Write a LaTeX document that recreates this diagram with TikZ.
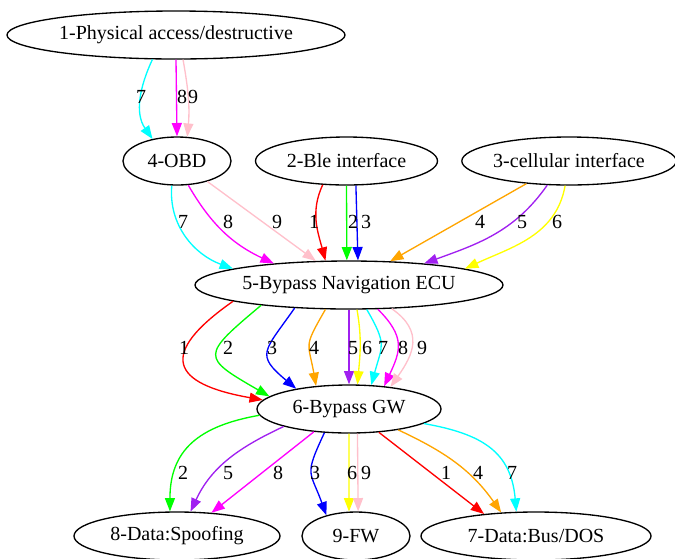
\documentclass[tikz,border=0pt]{standalone}
\usepackage{fontspec}
\setmainfont{Liberation Serif}
\usetikzlibrary{arrows.meta, shapes.geometric}
\definecolor{gvcyan}{HTML}{00FFFF}
\definecolor{gvmagenta}{HTML}{FF00FF}
\definecolor{gvpink}{HTML}{FFC0CB}
\definecolor{gvgreen}{HTML}{00FF00}
\definecolor{gvorange}{HTML}{FFA500}
\definecolor{gvpurple}{HTML}{A020F0}
\definecolor{gvyellow}{HTML}{FFFF00}

\begin{document}
\begin{tikzpicture}[x=0.75pt, y=-0.75pt,
                    every node/.style={font=\fontsize{15}{18}\selectfont},
                    block/.style={ellipse, draw, line width=1pt, inner sep=0pt, minimum height=36pt},
                    lbl/.style={inner sep=0pt},
                    flow/.style={line width=1pt, -{Triangle[length=10pt, width=7.5pt]}}
                ]
                \useasboundingbox (0,0) rectangle (675,558);

                \node[block, minimum width=253.5pt] (n1) at (176,35) {1-Physical access/destructive};
                \node[block, minimum width=81pt] (n4) at (177,161) {4-OBD};
                \node[block, minimum width=136.5pt] (n2) at (346.5,161) {2-Ble interface};
                \node[block, minimum width=159pt] (n3) at (569,161) {3-cellular interface};
                \node[block, minimum width=231pt] (n5) at (349,285) {5-Bypass Navigation ECU};
                \node[block, minimum width=138pt] (n6) at (349,409) {6-Bypass GW};
                \node[block, minimum width=154.5pt] (n8) at (177,536) {8-Data:Spoofing};
                \node[block, minimum width=81pt] (n9) at (356,536) {9-FW};
                \node[block, minimum width=172.5pt] (n7) at (536,536) {7-Data:Bus/DOS};

                % 1 -> 4
                \draw[flow, gvcyan] (n1.-134) to[out=-115, in=125] (n4.138);
                \draw[flow, gvmagenta] (n1.-90) -- (n4.90);
                \draw[flow, gvpink] (n1.-74) to[out=-80, in=85] (n4.67);
                \node[lbl] (l14s7) at (141,97) {7};
                \node[lbl] (l14s8) at (182,97) {8};
                \node[lbl] (l14s9) at (193,97) {9};

                % 4, 2, 3 -> 5
                \draw[flow, gvcyan] (n4.-102) to[out=-95, in=160] (n5.172);
                \draw[flow, gvmagenta] (n4.-65) to[out=-60, in=155] (n5.164);
                \draw[flow, gvpink] (n4.-34) -- (n5.144);
                \draw[flow, red] (n2.-135) to[out=-115, in=105] (n5.134);
                \draw[flow, gvgreen] (n2.-90) -- (n5.95);
                \draw[flow, blue] (n2.-69) -- (n5.70);
                \draw[flow, gvorange] (n3.-152) -- (n5.30);
                \draw[flow, gvpurple] (n3.-132) to[out=-125, in=20] (n5.16);
                \draw[flow, gvyellow] (n3.-99.5) to[out=-100, in=25] (n5.8);
                \node[lbl] (l45s7) at (183,222) {7};
                \node[lbl] (l45s8) at (228,222) {8};
                \node[lbl] (l45s9) at (277,222) {9};
                \node[lbl] (l25s1) at (314,222) {1};
                \node[lbl] (l25s2) at (353,222) {2};
                \node[lbl] (l25s3) at (366,222) {3};
                \node[lbl] (l35s4) at (480,222) {4};
                \node[lbl] (l35s5) at (522,222) {5};
                \node[lbl] (l35s6) at (557,222) {6};

                % 5 -> 6
                \draw[flow, red] (n5.-172) to[out=-145, in=170, looseness=2.3] (n6.174);
                \draw[flow, gvgreen] (n5.-167) to[out=-140, in=150, looseness=2.2] (n6.171);
                \draw[flow, blue] (n5.-157) to[out=-125, in=140, looseness=1.7] (n6.159);
                \draw[flow, gvorange] (n5.-134) to[out=-120, in=100, looseness=1.5] (n6.145);
                \draw[flow, gvpurple] (n5.-90) -- (n6.90);
                \draw[flow, gvyellow] (n5.-72) to[out=-80, in=85] (n6.71);
                \draw[flow, gvcyan] (n5.-54) to[out=-60, in=75, looseness=1.4] (n6.47);
                \draw[flow, gvmagenta] (n5.-40) to[out=-45, in=65, looseness=1.3] (n6.33);
                \draw[flow, gvpink] (n5.-29) to[out=-35, in=55, looseness=1.3] (n6.28);
                \node[lbl] (l56s1) at (184,348) {1};
                \node[lbl] (l56s2) at (228,348) {2};
                \node[lbl] (l56s3) at (272,348) {3};
                \node[lbl] (l56s4) at (314,348) {4};
                \node[lbl] (l56s5) at (353,348) {5};
                \node[lbl] (l56s6) at (367,348) {6};
                \node[lbl] (l56s7) at (383,348) {7};
                \node[lbl] (l56s8) at (403,348) {8};
                \node[lbl] (l56s9) at (422,348) {9};

                % 6 -> 8, 9, 7
                \draw[flow, gvgreen] (n6.-176) to[out=-170, in=90, looseness=1.2] (n8.106);
                \draw[flow, gvpurple] (n6.-165) to[out=-155, in=65] (n8.61);
                \draw[flow, gvmagenta] (n6.-147) -- (n8.34);
                \draw[flow, blue] (n6.-136) to[out=-115, in=110, looseness=1.5] (n9.145);
                \draw[flow, gvyellow] (n6.-90) -- (n9.106);
                \draw[flow, gvpink] (n6.-71) -- (n9.85);
                \draw[flow, red] (n6.-38) -- (n7.157);
                \draw[flow, gvorange] (n6.-23) to[out=-25, in=125] (n7.146);
                \draw[flow, gvcyan] (n6.-11) to[out=-10, in=95, looseness=1.2] (n7.129);
                \node[lbl] (l68s2) at (183,473) {2};
                \node[lbl] (l68s5) at (228,473) {5};
                \node[lbl] (l68s8) at (278,473) {8};
                \node[lbl] (l69s3) at (315,473) {3};
                \node[lbl] (l69s6) at (352,473) {6};
                \node[lbl] (l69s9) at (366,473) {9};
                \node[lbl] (l67s1) at (446,473) {1};
                \node[lbl] (l67s4) at (478,473) {4};
                \node[lbl] (l67s7) at (512,473) {7};
\end{tikzpicture}
\end{document}
